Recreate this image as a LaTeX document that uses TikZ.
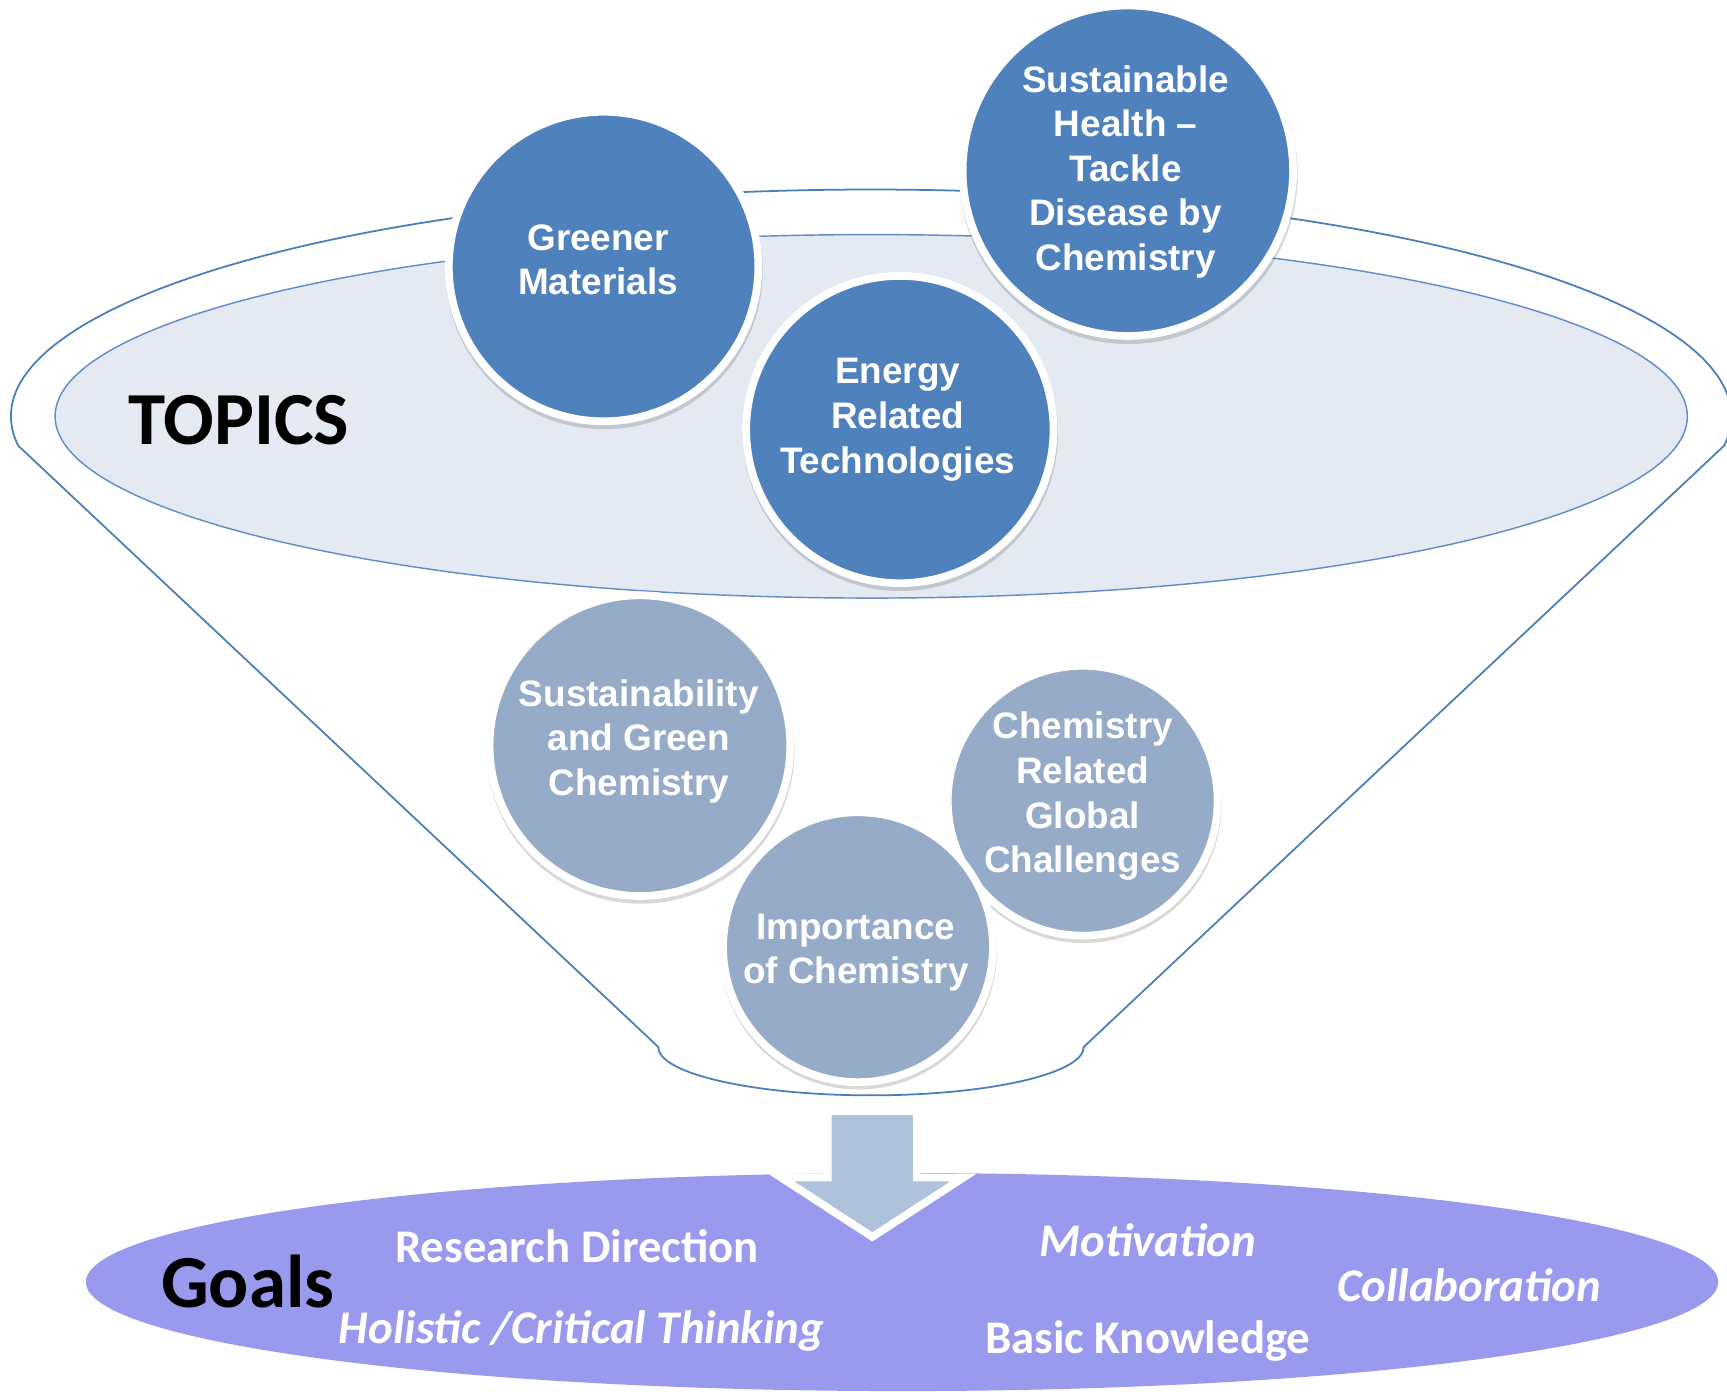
\documentclass[tikz,border=0pt]{standalone}
\usepackage{fontspec}
\setmainfont{Carlito}
\newfontfamily\arialfont{Liberation Sans}
\usetikzlibrary{shadows}
\definecolor{funnelblue}{RGB}{74,126,187}
\definecolor{topicfill}{RGB}{228,233,242}
\definecolor{topicline}{RGB}{98,140,198}
\definecolor{darkcirc}{RGB}{79,129,189}
\definecolor{lightcirc}{RGB}{149,171,199}
\definecolor{arrowfill}{RGB}{176,193,219}
\definecolor{goalfill}{RGB}{153,153,238}
\begin{document}
\begin{tikzpicture}[x=1pt,y=-1pt,
  bub/.style={circle, draw=white, line width=7pt, inner sep=0pt,
    drop shadow={shadow xshift=0.5pt, shadow yshift=-3.5pt, shadow scale=1.025, opacity=0.22, fill=black!70}},
  darkbub/.style={bub, fill=darkcirc},
  lightbub/.style={bub, fill=lightcirc},
  bubtext/.style={text=white, align=center, inner sep=0pt,
    font=\arialfont\bfseries\fontsize{33.5}{40.5}\selectfont},
  goaltext/.style={text=white, anchor=base, inner sep=0pt,
    font=\bfseries\fontsize{42.5}{50}\selectfont},
  goalitext/.style={goaltext, font=\bfseries\itshape\fontsize{42.5}{50}\selectfont},
  bigtitle/.style={text=black, anchor=base, inner sep=0pt,
    font=\bfseries\fontsize{68}{80}\selectfont}
]
\useasboundingbox (0,0) rectangle (1568,1265);

% funnel outline
\draw[funnelblue, line width=1.6pt, line join=round]
  (16.5,404.6) arc[start angle=172.6, end angle=367.4, x radius=781, y radius=206]
  -- (984,950.5)
  arc[start angle=0, end angle=180, x radius=193.2, y radius=44]
  -- cycle;

% topics ellipse
\draw[topicline, line width=1.3pt, fill=topicfill]
  (791,378) ellipse[x radius=741, y radius=165];
\node[bigtitle] (topics) at (217,404) {TOPICS};

% upper (dark) circles
\node[darkbub, minimum size=281pt] (gm) at (548,242) {};
\node[bubtext] (gmt) at (543,236) {Greener\\Materials};
\node[darkbub, minimum size=300pt] (sh) at (1024,155) {};
\node[bubtext] (sht) at (1022,156) {Sustainable\\Health –\\Tackle\\Disease by\\Chemistry};
\node[darkbub, minimum size=279pt] (en) at (817,390) {};
\node[bubtext] (ent) at (815,381) {Energy\\Related\\Technologies};

% lower (light) circles
\node[lightbub, minimum size=273pt] (sg) at (581,677) {};
\node[bubtext] (sgt) at (580,673) {Sustainability\\and Green\\Chemistry};
\node[lightbub, minimum size=245pt] (cg) at (983,727) {};
\node[bubtext] (cgt) at (983,723) {Chemistry\\Related\\Global\\Challenges};
\node[lightbub, minimum size=245pt] (ic) at (779,860) {};
\node[bubtext] (ict) at (777,865) {Importance\\of Chemistry};

% goals ellipse
\fill[goalfill] (819,1164) ellipse[x radius=741, y radius=99];

% arrow
\draw[white, line width=7pt, line join=miter, fill=arrowfill,
  drop shadow={shadow xshift=0.5pt, shadow yshift=-3pt, opacity=0.22, fill=black!70}]
  (751.5,1009) -- (832.5,1009) -- (832.5,1069) -- (875,1069) -- (792,1123)
  -- (709,1069) -- (751.5,1069) -- cycle;

% goals texts
\node[bigtitle] (goals) at (225,1187) {Goals};
\node[goaltext] (rd) at (524,1146) {Research Direction};
\node[goalitext] (ht) at (528,1220) {Holistic /Critical Thinking};
\node[goalitext] (mo) at (1042,1141) {Motivation};
\node[goalitext] (co) at (1334,1182) {Collaboration};
\node[goaltext] (bk) at (1042,1229) {Basic Knowledge};
\end{tikzpicture}
\end{document}
